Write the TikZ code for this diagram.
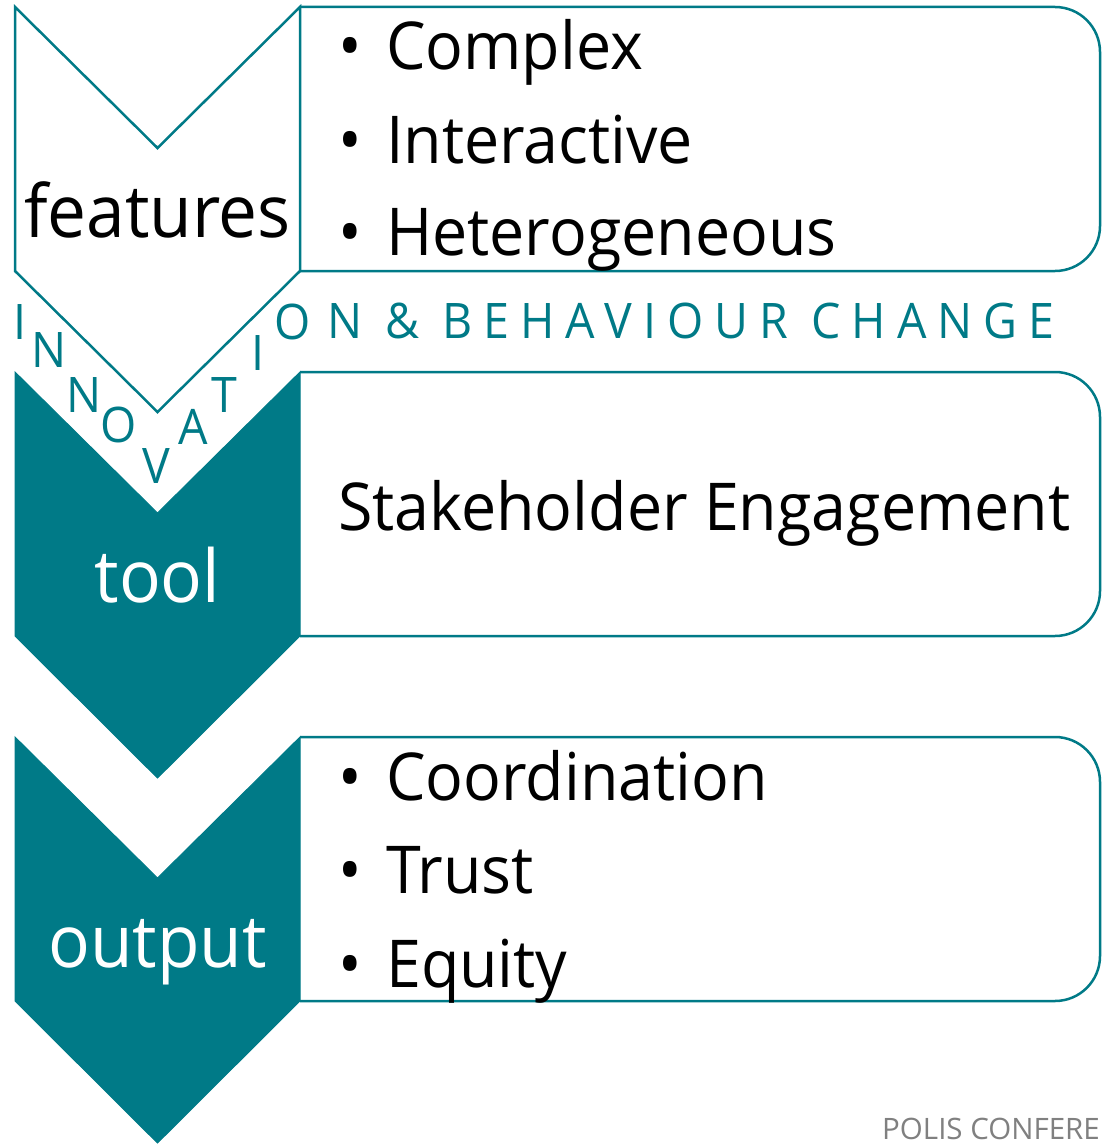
\documentclass[tikz,border=0pt]{standalone}
\usepackage{fontspec}
\setmainfont{Open Sans}[FakeStretch=0.95]
\newfontfamily\spacedfont{Open Sans}[FakeStretch=0.95,LetterSpace=22.5]
\newfontfamily\plainfont{Open Sans}
\definecolor{tealc}{RGB}{0,122,135}
\definecolor{grayc}{RGB}{128,128,128}
\begin{document}
\begin{tikzpicture}[x=1pt,y=-1pt,
  chevout/.style={draw=tealc,fill=white,line width=2.5pt,line join=miter},
  chevfill/.style={fill=tealc,draw=tealc,line width=1pt},
  boxline/.style={draw=tealc,line width=2.5pt,rounded corners=45pt},
  bigtxt/.style={inner sep=0pt,anchor=base,font=\fontsize{73}{88}\selectfont},
  item/.style={inner sep=0pt,anchor=base west,font=\fontsize{66}{80}\selectfont},
  vlet/.style={inner sep=0pt,text=tealc,font=\spacedfont\fontsize{49}{60}\selectfont}]
\useasboundingbox (0,0) rectangle (1101,1145);
% boxes
\draw[boxline] (300,7) -- (1100,7) -- (1100,271) -- (300,271);
\draw[boxline] (300,372) -- (1100,372) -- (1100,636) -- (300,636);
\draw[boxline] (300,737) -- (1100,737) -- (1100,1001) -- (300,1001);
% chevrons
\draw[chevout] (15,7) -- (157.5,148) -- (300,7) -- (300,271) -- (157.5,412) -- (15,271) -- cycle;
\fill[chevfill] (15,372) -- (157.5,513) -- (300,372) -- (300,636) -- (157.5,778) -- (15,636) -- cycle;
\fill[chevfill] (15,737) -- (157.5,878) -- (300,737) -- (300,1001) -- (157.5,1143) -- (15,1001) -- cycle;
% chevron labels
\node[bigtxt] (features) at (157.5,237) {features};
\node[bigtxt,text=white] (tool) at (157.5,602) {tool};
\node[bigtxt,text=white] (output) at (157.5,967) {output};
% items
\node[item] (i1) at (338,70) {\makebox[48pt][l]{•}Complex};
\node[item] (i2) at (338,163) {\makebox[48pt][l]{•}Interactive};
\node[item] (i3) at (338,255) {\makebox[48pt][l]{•}Heterogeneous};
\node[item] (s1) at (338,530) {Stakeholder Engagement};
\node[item] (o1) at (338,800) {\makebox[48pt][l]{•}Coordination};
\node[item] (o2) at (338,893) {\makebox[48pt][l]{•}Trust};
\node[item] (o3) at (338,987) {\makebox[48pt][l]{•}Equity};
% innovation letters
\node[vlet] (l1) at (20,322) {I};
\node[vlet] (l2) at (49,350) {N};
\node[vlet] (l3) at (84,395) {N};
\node[vlet] (l4) at (119,425) {O};
\node[vlet] (l5) at (156,466) {V};
\node[vlet] (l6) at (193,427) {A};
\node[vlet] (l7) at (224,395) {T};
\node[vlet] (l8) at (258,353) {I};
\node[vlet] (l9) at (293,322) {O};
\node[vlet,anchor=base west] (rest) at (327,338) {N \& BEHAVIOUR CHANGE};
% footer
\node[inner sep=0pt,anchor=base west,text=grayc,font=\plainfont\fontsize{29.5}{35}\selectfont] (polis) at (882,1139) {POLIS CONFERE};
\end{tikzpicture}
\end{document}
